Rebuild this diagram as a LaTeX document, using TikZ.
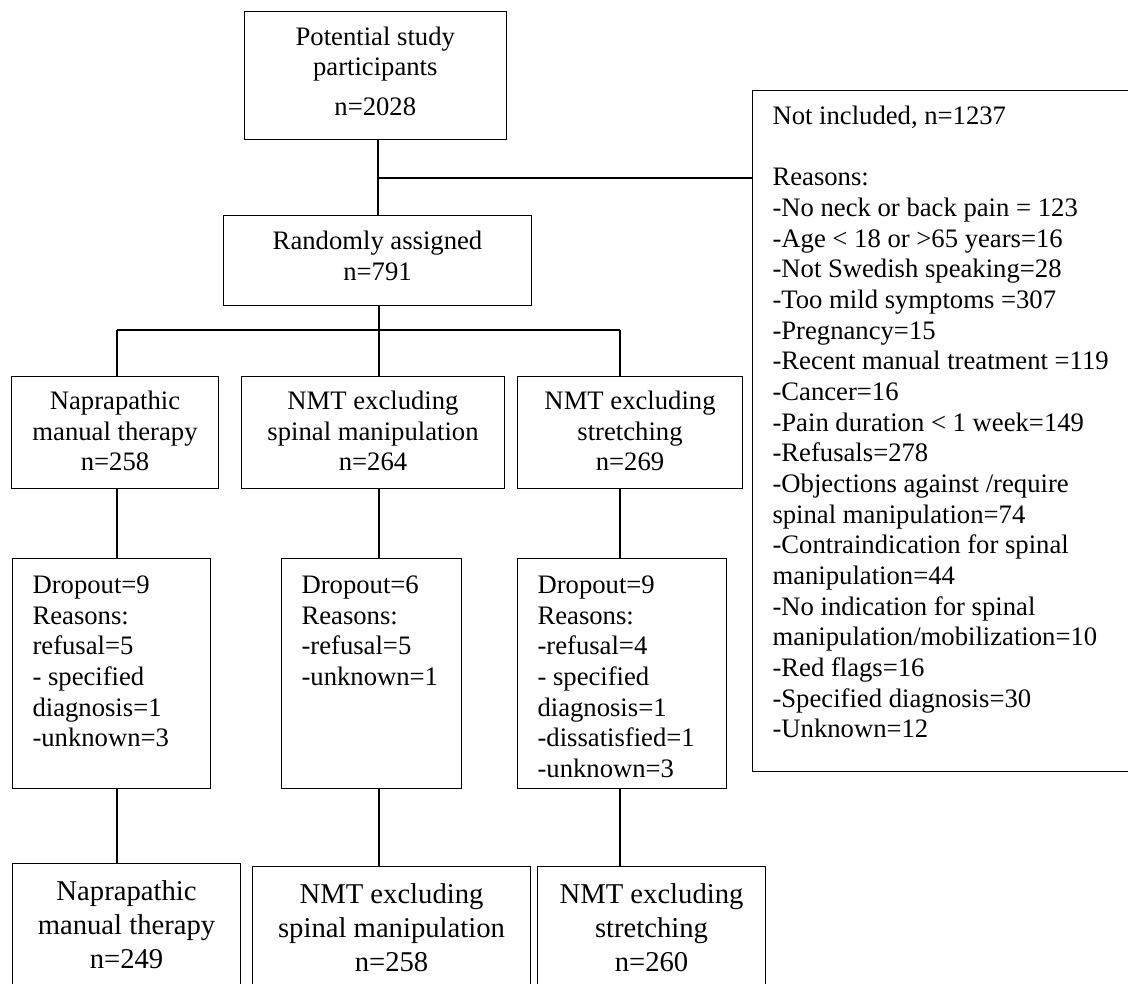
\documentclass[tikz,border=0pt]{standalone}
\usepackage{fontspec}
\setmainfont{Liberation Serif}
\newlength\px
\setlength\px{0.75pt}
\newcommand\stdfont{\fontsize{20pt}{23pt}\selectfont}
\newcommand\bigfont{\fontsize{21.5pt}{25.5pt}\selectfont}
\tikzset{
  box/.style={draw, line width=0.8pt, inner sep=0pt, anchor=north west},
  link/.style={line width=0.8pt}
}
\begin{document}
\begin{tikzpicture}[x=0.75pt, y=-0.75pt]
\useasboundingbox (0,0) rectangle (1128,983);
\clip (0,0) rectangle (1128,983);
% column coordinates
\coordinate (c1) at (117,0);
\coordinate (c2) at (379,0);
\coordinate (c3) at (620,0);
\coordinate (cm) at (378,0);
% top
\node[box] (top) at (243.5,11) {\parbox[c][128\px][t]{262.5\px}{\stdfont\centering\rule{0pt}{34\px}Potential study\\[-0.5pt]participants\\[7pt]n=2028}};
\node[box] (rand) at (223,215) {\parbox[c][90\px][t]{308\px}{\stdfont\centering\rule{0pt}{34\px}Randomly assigned\\n=791}};
% not included
\node[box] (excl) at (752,90) {\parbox[c][681\px][t]{400\px}{\stdfont\raggedright\leftskip=20\px\rule{0pt}{34\px}Not included, n=1237\\[23pt]Reasons:\\-No neck or back pain = 123\\-Age \textless{} 18 or \textgreater65 years=16\\-Not Swedish speaking=28\\-Too mild symptoms =307\\-Pregnancy=15\\-Recent manual treatment =119\\-Cancer=16\\-Pain duration \textless{} 1 week=149\\-Refusals=278\\-Objections against /require\\spinal manipulation=74\\-Contraindication for spinal\\manipulation=44\\-No indication for spinal\\manipulation/mobilization=10\\-Red flags=16\\-Specified diagnosis=30\\-Unknown=12}};
% arms
\node[box] (a1) at (11,376) {\parbox[c][112\px][t]{207\px}{\stdfont\centering\rule{0pt}{33\px}Naprapathic\\manual therapy\\n=258}};
\node[box] (a2) at (241,376) {\parbox[c][112\px][t]{263\px}{\stdfont\centering\rule{0pt}{33\px}NMT excluding\\spinal manipulation\\n=264}};
\node[box] (a3) at (517,376) {\parbox[c][112\px][t]{225\px}{\stdfont\centering\rule{0pt}{33\px}NMT excluding\\stretching\\n=269}};
% dropouts
\node[box] (d1) at (12,558) {\parbox[c][230\px][t]{198\px}{\stdfont\raggedright\leftskip=20\px\rule{0pt}{35\px}Dropout=9\\Reasons:\\refusal=5\\- specified\\diagnosis=1\\-unknown=3}};
\node[box] (d2) at (281,558) {\parbox[c][230\px][t]{180\px}{\stdfont\raggedright\leftskip=20\px\rule{0pt}{35\px}Dropout=6\\Reasons:\\-refusal=5\\-unknown=1}};
\node[box] (d3) at (517,558) {\parbox[c][230\px][t]{209\px}{\stdfont\raggedright\leftskip=20\px\rule{0pt}{35\px}Dropout=9\\Reasons:\\-refusal=4\\- specified\\diagnosis=1\\-dissatisfied=1\\-unknown=3}};
% finals
\node[box] (f1) at (12,863) {\parbox[c][140\px][t]{228\px}{\bigfont\centering\rule{0pt}{37\px}Naprapathic\\manual therapy\\n=249}};
\node[box] (f2) at (252,866) {\parbox[c][140\px][t]{278\px}{\bigfont\centering\rule{0pt}{37\px}NMT excluding\\spinal manipulation\\n=258}};
\node[box] (f3) at (537,866) {\parbox[c][140\px][t]{228\px}{\bigfont\centering\rule{0pt}{37\px}NMT excluding\\stretching\\n=260}};
% connectors
\coordinate (j) at (378,178);
\coordinate (bus) at (379,330);
\draw[link] (top.south -| cm) -- (rand.north -| cm);
\draw[link] (j) -- (j -| excl.west);
\draw[link] (rand.south -| c2) -- (c2 |- bus);
\draw[link] (c1 |- bus) -- (c3 |- bus);
\draw[link] (c1 |- bus) -- (a1.north -| c1);
\draw[link] (c2 |- bus) -- (a2.north -| c2);
\draw[link] (c3 |- bus) -- (a3.north -| c3);
\draw[link] (a1.south -| c1) -- (d1.north -| c1);
\draw[link] (a2.south -| c2) -- (d2.north -| c2);
\draw[link] (a3.south -| c3) -- (d3.north -| c3);
\draw[link] (d1.south -| c1) -- (f1.north -| c1);
\draw[link] (d2.south -| c2) -- (f2.north -| c2);
\draw[link] (d3.south -| c3) -- (f3.north -| c3);
\end{tikzpicture}
\end{document}
